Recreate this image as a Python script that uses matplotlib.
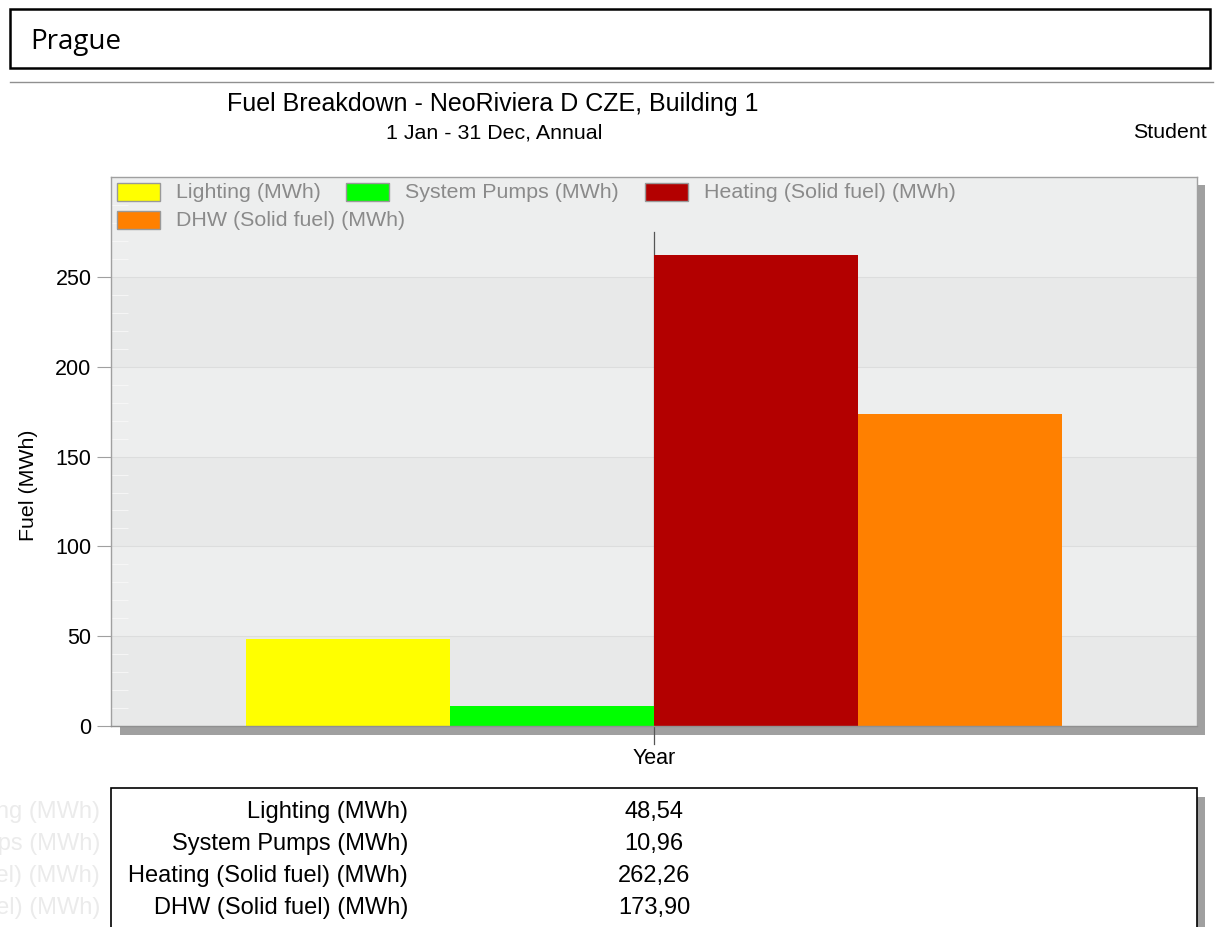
import matplotlib
matplotlib.use("Agg")
import matplotlib.pyplot as plt
from matplotlib.patches import Rectangle
from matplotlib.lines import Line2D

# data
series = ["Lighting (MWh)", "System Pumps (MWh)", "Heating (Solid fuel) (MWh)", "DHW (Solid fuel) (MWh)"]
values = [48.54, 10.96, 262.26, 173.90]
value_labels = ["48,54", "10,96", "262,26", "173,90"]
colors = ["#ffff00", "#00ff00", "#b30000", "#ff8000"]
yticks = [0, 50, 100, 150, 200, 250]

W, H = 1217, 927
fig = plt.figure(figsize=(W / 100, H / 100), dpi=100)
plt.rcParams['font.family'] = ['Liberation Sans', 'DejaVu Sans']


def fx(x):
    return x / W


def fy(y):
    return 1 - y / H


def rect(x0, y0, x1, y1, **kw):
    r = Rectangle((fx(x0), fy(y1)), fx(x1) - fx(x0), fy(y0) - fy(y1),
                  transform=fig.transFigure, **kw)
    fig.add_artist(r)
    return r


# header box
rect(10, 9, 1210, 68, facecolor="white", edgecolor="black", linewidth=1.8)
fig.text(fx(30), fy(42), "Prague", family="Open Sans", fontsize=20,
         va="center", ha="left")
fig.add_artist(Line2D([fx(10), fx(1213)], [fy(82), fy(82)], color="#909090",
                      linewidth=1, transform=fig.transFigure))

fig.text(fx(493), fy(104), "Fuel Breakdown - NeoRiviera D CZE, Building 1",
         fontsize=18, ha="center", va="center")
fig.text(fx(494), fy(133), "1 Jan - 31 Dec, Annual", fontsize=15.4,
         ha="center", va="center")
fig.text(fx(1207), fy(133), "Student", fontsize=15.4, ha="right", va="center")

# shadow behind plot
rect(120, 185, 1205, 735, facecolor="#a0a0a0", edgecolor="none", zorder=0)

ax = fig.add_axes([fx(111), fy(726), fx(1197) - fx(111), fy(177) - fy(726)])
ax.set_facecolor("#edeeee")
ymax = (726 - 177) / 1.796
ax.set_ylim(0, ymax)
ax.set_xlim(-2.66, 2.66)

for lo in range(0, 300, 100):
    ax.axhspan(lo, lo + 50, color="#e8e9e9", zorder=0, linewidth=0)
for t in yticks[1:]:
    ax.axhline(t, color="#dcdddd", linewidth=0.8, zorder=0.5)

ax.plot([0, 0], [275, -10], color="#555555", linewidth=0.9, zorder=1,
        clip_on=False)

pos = [-1.5, -0.5, 0.5, 1.5]
ax.bar(pos, values, width=1.0, color=colors, zorder=2, linewidth=0)

ax.set_yticks(yticks)
ax.set_yticklabels([str(t) for t in yticks], fontsize=15.5)
ax.set_yticks(range(0, 300, 10), minor=True)
ax.tick_params(axis="y", which="major", length=10, color="#a0a0a0", pad=4)
ax.tick_params(axis="y", which="minor", direction="in", length=12,
               color="#f8f8f8")
ax.set_xticks([0])
ax.set_xticklabels(["Year"], fontsize=15.5)
ax.tick_params(axis="x", length=0, pad=16)
for s in ax.spines.values():
    s.set_color("#a0a0a0")
    s.set_linewidth(1)
ax.spines["bottom"].set_color("#909090")
ax.set_ylabel("Fuel (MWh)", fontsize=15.4)
ax.yaxis.set_label_coords(-(111 - 38) / 1086, (726 - 485) / 549)

# legend drawn inside the plot as a flow layout
legend_rows = [[(117, 183, 0), (346, 183, 1), (645, 183, 2)],
               [(117, 211, 3)]]
for row in legend_rows:
    for x, y, i in row:
        rect(x, y, x + 43, y + 18, facecolor=colors[i], edgecolor="#999999",
             linewidth=1, zorder=5)
        fig.text(fx(x + 59), fy(y + 10), series[i], fontsize=15.4,
                 color="#8a8a8a", ha="left", va="center", zorder=5)

# data table
rect(1197, 797, 1205, 940, facecolor="#a0a0a0", edgecolor="none", zorder=0)
rect(111, 788, 1197, 940, facecolor="white", edgecolor="black",
     linewidth=1.2, zorder=1)
for k, (name, val) in enumerate(zip(series, value_labels)):
    y = 812 + 32 * k
    fig.text(fx(408), fy(y), name, fontsize=17, ha="right", va="center",
             zorder=3)
    fig.text(fx(654), fy(y), val, fontsize=17, ha="center", va="center",
             zorder=3)
    fig.text(fx(100), fy(y), name, fontsize=17, ha="right", va="center",
             color="#ebebeb", zorder=3)

fig.savefig("out.png", dpi=100)
